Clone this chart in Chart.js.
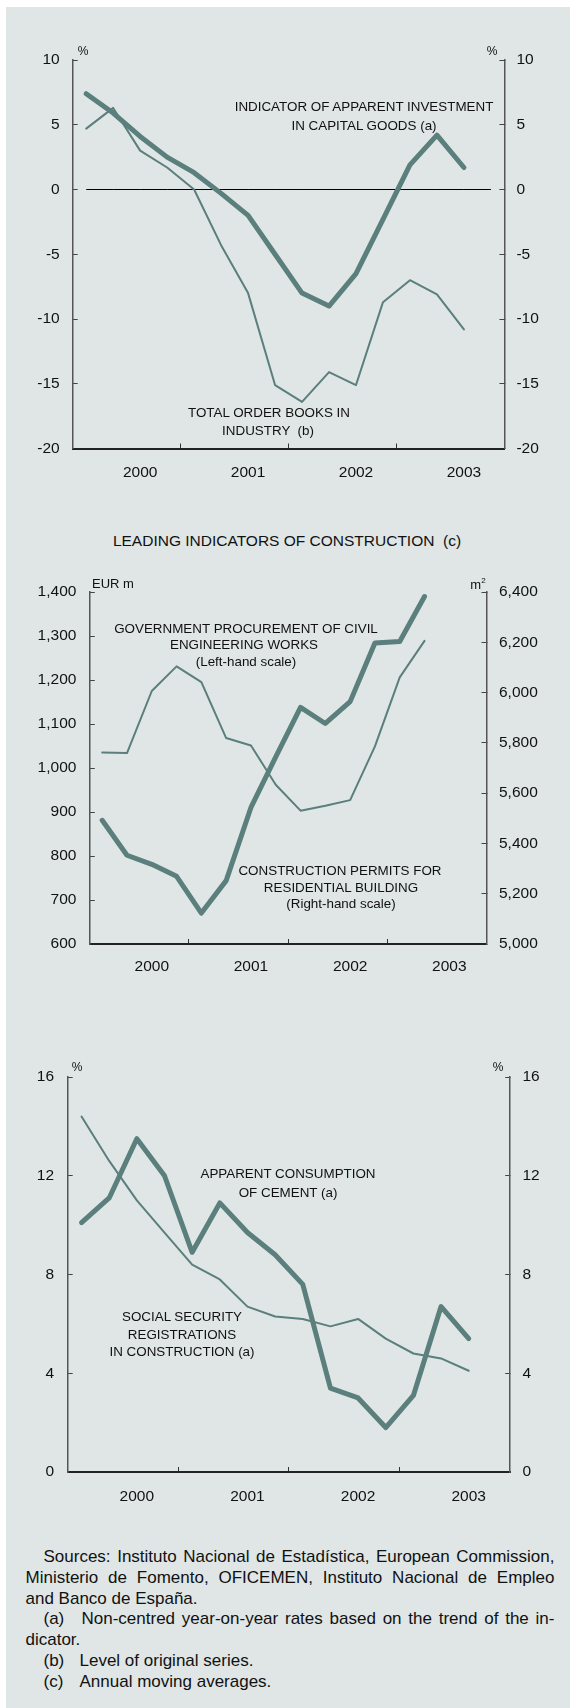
<!DOCTYPE html>
<html>
<head>
<meta charset="utf-8">
<script src="https://cdn.jsdelivr.net/npm/chart.js@4.4.0/dist/chart.umd.min.js"></script>
<style>
  body { margin: 0; width: 570px; height: 1708px; position: relative; overflow: hidden; background: #fff;
         font-family: "Liberation Sans", Arial, sans-serif; color: #111; }
  #panel { position: absolute; left: 6px; top: 7px; width: 564px; height: 1701px; background: #dfe6e5; }
  canvas { position: absolute; left: 0; z-index: 1; }
  .t { position: absolute; transform: translate(-50%, -50%); white-space: pre; line-height: 1; font-size: 13.4px; z-index: 2; }
  .u { font-size: 12px; }
  .title { font-size: 15.5px; }
  #notes { position: absolute; left: 25.5px; top: 1547px; width: 529px; font-size: 17px; line-height: 20.8px; z-index: 2; }
  #notes div { white-space: nowrap; }
  #notes .j { text-align: justify; text-align-last: justify; white-space: normal; }
  .ind { padding-left: 18px; }
  .tag { display: inline-block; width: 38px; }
</style>
</head>
<body>
<div id="panel"></div>

<canvas id="chart1" width="570" height="500" style="top:0px"></canvas>
<canvas id="chart2" width="570" height="440" style="top:560px"></canvas>
<canvas id="chart3" width="570" height="490" style="top:1040px"></canvas>

<!-- chart 1 texts -->
<div class="t u" style="left:83px;top:51px">%</div>
<div class="t u" style="left:492px;top:51px">%</div>
<div class="t" style="left:364px;top:107px">INDICATOR OF APPARENT INVESTMENT</div>
<div class="t" style="left:364px;top:126px">IN CAPITAL GOODS (a)</div>
<div class="t" style="left:269px;top:413px">TOTAL ORDER BOOKS IN</div>
<div class="t" style="left:268px;top:431px">INDUSTRY  (b)</div>

<!-- chart 2 texts -->
<div class="t title" style="left:287px;top:541px">LEADING INDICATORS OF CONSTRUCTION  (c)</div>
<div class="t" style="left:113px;top:583px;font-size:13px">EUR m</div>
<div class="t" style="left:478px;top:584px;font-size:13px">m<sup style="font-size:8px">2</sup></div>
<div class="t" style="left:246px;top:629px">GOVERNMENT PROCUREMENT OF CIVIL</div>
<div class="t" style="left:244px;top:645px">ENGINEERING WORKS</div>
<div class="t" style="left:246px;top:662px">(Left-hand scale)</div>
<div class="t" style="left:340px;top:871px">CONSTRUCTION PERMITS FOR</div>
<div class="t" style="left:341px;top:888px">RESIDENTIAL BUILDING</div>
<div class="t" style="left:341px;top:904px">(Right-hand scale)</div>

<!-- chart 3 texts -->
<div class="t u" style="left:77px;top:1067px">%</div>
<div class="t u" style="left:498px;top:1067px">%</div>
<div class="t" style="left:288px;top:1174px">APPARENT CONSUMPTION</div>
<div class="t" style="left:288px;top:1193px">OF CEMENT (a)</div>
<div class="t" style="left:182px;top:1317px">SOCIAL SECURITY</div>
<div class="t" style="left:182px;top:1335px">REGISTRATIONS</div>
<div class="t" style="left:182px;top:1352px">IN CONSTRUCTION (a)</div>

<div id="notes">
  <div class="j ind">Sources: Instituto Nacional de Estadística, European Commission,</div>
  <div class="j">Ministerio de Fomento, OFICEMEN, Instituto Nacional de Empleo</div>
  <div>and Banco de España.</div>
  <div class="j ind"><span class="tag">(a)</span>Non-centred year-on-year rates based on the trend of the in-</div>
  <div>dicator.</div>
  <div class="ind"><span class="tag" style="width:36px">(b)</span>Level of original series.</div>
  <div class="ind"><span class="tag" style="width:36px">(c)</span>Annual moving averages.</div>
</div>

<script>
const quarters = [
  "2000 Q1", "2000 Q2", "2000 Q3", "2000 Q4",
  "2001 Q1", "2001 Q2", "2001 Q3", "2001 Q4",
  "2002 Q1", "2002 Q2", "2002 Q3", "2002 Q4",
  "2003 Q1", "2003 Q2", "2003 Q3", "2003 Q4"
];
const yearLabels = ["2000", "2001", "2002", "2003"];

// Top chart (%)
const capitalGoodsInvestment = [7.4, 5.9, 4.1, 2.5, 1.3, -0.3, -2.0, -5.0, -8.0, -9.0, -6.5, -2.3, 1.9, 4.2, 1.7];
const industryOrderBooks = [4.7, 6.3, 3.0, 1.7, 0.0, -4.3, -8.0, -15.1, -16.4, -14.1, -15.1, -8.7, -7.0, -8.1, -10.8];
const zeroLine = quarters.map(() => 0);

// Leading indicators of construction
const civilEngineering = [1035, 1034, 1175, 1231, 1195, 1068, 1051, 962, 903, 914, 927, 1049, 1206, 1289];   // EUR m
const residentialPermits = [5492, 5353, 5317, 5269, 5123, 5252, 5543, 5744, 5941, 5877, 5964, 6197, 6203, 6382]; // m2

// Bottom chart (%)
const cementConsumption = [10.1, 11.1, 13.5, 12.0, 8.9, 10.9, 9.7, 8.8, 7.6, 3.4, 3.0, 1.8, 3.1, 6.7, 5.4];
const socialSecurity = [14.4, 12.6, 11.0, 9.7, 8.4, 7.8, 6.7, 6.3, 6.2, 5.9, 6.2, 5.4, 4.8, 4.6, 4.1];

const LINE = "#5a7f7c";
const FONT = "'Liberation Sans', Arial, sans-serif";

function series(data, width, axis, order) {
  return {
    data: data,
    yAxisID: axis,
    borderColor: LINE,
    borderWidth: width,
    pointRadius: 0,
    tension: 0,
    borderJoinStyle: "round",
    borderCapStyle: "round",
    order: order
  };
}

function xScale(height, padding) {
  return {
    type: "category",
    offset: true,
    grid: {
      offset: true,
      drawOnChartArea: false,
      tickLength: -5,
      // only mark the boundaries between years
      tickColor: (ctx) => (ctx.index % 4 === 0 && ctx.index > 0 && ctx.index < 16) ? "#333" : "rgba(0,0,0,0)"
    },
    border: { color: "#222", width: 2 },
    ticks: {
      autoSkip: false,
      maxRotation: 0,
      padding: padding,
      color: "#111",
      font: { family: FONT, size: 15.5 },
      callback: (value, index) => (index % 4 === 2 ? yearLabels[(index - 2) / 4] : "")
    },
    afterFit: (scale) => { scale.height = height; }
  };
}

function yScale(position, min, max, step, width, padding, format) {
  return {
    position: position,
    min: min,
    max: max,
    grid: { drawOnChartArea: false, tickLength: -5, tickColor: "#444" },
    border: { color: "#555", width: 1.5 },
    ticks: {
      stepSize: step,
      padding: padding,
      color: "#111",
      font: { family: FONT, size: 15.5 },
      callback: format || ((v) => v)
    },
    afterFit: (scale) => { scale.width = width; }
  };
}

function drawChart(id, datasets, scales, top) {
  return new Chart(document.getElementById(id), {
    type: "line",
    data: { labels: quarters, datasets: datasets },
    options: {
      responsive: false,
      animation: false,
      devicePixelRatio: 1,
      layout: { padding: { top: top } },
      plugins: { legend: { display: false }, tooltip: { enabled: false } },
      scales: scales
    }
  });
}

const withCommas = (v) => v.toLocaleString("en-US");

drawChart("chart1", [
  series(capitalGoodsInvestment, 5, "y", 1),
  series(industryOrderBooks, 2, "y", 2),
  { data: zeroLine, yAxisID: "y", borderColor: "#000", borderWidth: 1, pointRadius: 0, order: 3 }
], {
  x: xScale(51.5, 20),
  y: yScale("left", -20, 10, 5, 72.7, 18),
  y2: yScale("right", -20, 10, 5, 65.6, 17)
}, 60);

drawChart("chart2", [
  series(residentialPermits, 5, "y2", 1),
  series(civilEngineering, 2, "y", 2)
], {
  x: xScale(56, 18),
  y: yScale("left", 600, 1400, 100, 89.8, 18.4, withCommas),
  y2: yScale("right", 5000, 6400, 200, 83.5, 17.5, withCommas)
}, 32);

drawChart("chart3", [
  series(cementConsumption, 5, "y", 1),
  series(socialSecurity, 2, "y", 2)
], {
  x: xScale(58, 20),
  y: yScale("left", 0, 16, 4, 67.7, 18.7),
  y2: yScale("right", 0, 16, 4, 59.8, 17.3)
}, 37);
</script>
</body>
</html>
